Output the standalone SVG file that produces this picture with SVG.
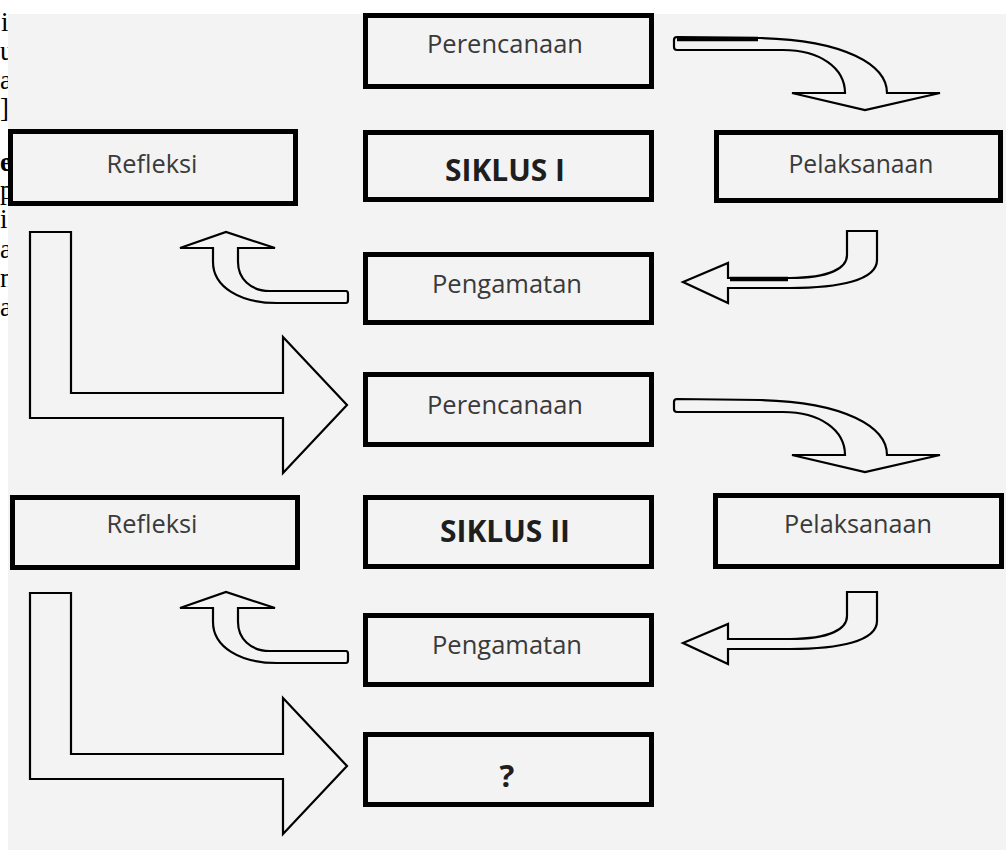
<svg xmlns="http://www.w3.org/2000/svg" width="1006" height="850" viewBox="0 0 1006 850">
<style>
.box{fill:none;stroke:#000;stroke-width:5}
.lbl{font-family:"Open Sans","Noto Sans",sans-serif;font-size:25px;fill:#3a3a3a;text-anchor:middle}
.bold{font-family:"Open Sans","Noto Sans",sans-serif;font-size:31px;font-weight:bold;fill:#1e1e1e;text-anchor:middle}
.arr{fill:#f3f3f3;stroke:#000;stroke-width:2.2;stroke-linejoin:miter}
.heavy{stroke:#000;stroke-width:4.5;fill:none}
.bg{font-family:"Liberation Serif",serif;font-size:27px;fill:#000}
</style>
<defs>
<path id="arrA" d="M677,37 L760,38 C845,40 887,65 887,93 L940,93 L865,110 L792,93 L845,93 C845,68 820,50 783,50 L677,50 Q674,50 674,47 L674,40 Q674,37 677,37 Z"/>
<path id="arrB" d="M847,231 L877,231 L877,260 C877,280 840,288 790,288 L728,288 L728,303 L683,282 L728,263 L728,278 L790,278 C830,278 847,268 847,255 Z"/>
<path id="arrC" d="M346,291 L270,291 C250,291 238,278 238,262 L238,248 L275,248 L226,232 L180,248 L213,248 L213,262 C213,287 240,303 277,303 L346,303 Q348,303 348,300 L348,294 Q348,291 346,291 Z"/>
<path id="arrD" d="M30,232 L71,232 L71,393 L283,393 L283,337 L347,405 L283,473 L283,418 L30,418 Z"/>
</defs>
<rect x="0" y="0" width="1006" height="850" fill="#ffffff"/>
<g id="page-fragments">
<text class="bg" x="1" y="31">i</text>
<text class="bg" x="0" y="60">u</text>
<text class="bg" x="0" y="89">al</text>
<text class="bg" x="0" y="117">]</text>
<text class="bg" x="0" y="171" font-weight="bold">e</text>
<text class="bg" x="0" y="199">p</text>
<text class="bg" x="0" y="228">is</text>
<text class="bg" x="0" y="258">a</text>
<text class="bg" x="0" y="287">n</text>
<text class="bg" x="0" y="316">a</text>
</g>
<rect x="8" y="14" width="998" height="836" fill="#f3f3f3"/>
<g id="connectors">
<use href="#arrA" class="arr"/>
<line class="heavy" x1="677" y1="39" x2="758" y2="39"/>
<use href="#arrB" class="arr"/>
<line class="heavy" x1="730" y1="279" x2="788" y2="279"/>
<use href="#arrC" class="arr"/>
<use href="#arrD" class="arr"/>
<use href="#arrA" class="arr" transform="translate(0,362)"/>
<use href="#arrB" class="arr" transform="translate(0,361)"/>
<use href="#arrC" class="arr" transform="translate(0,360)"/>
<use href="#arrD" class="arr" transform="translate(0,361)"/>
</g>
<g id="perencanaan-1"><rect class="box" x="365.5" y="15.5" width="286" height="71"/><text class="lbl" x="505" y="53" textLength="156" lengthAdjust="spacingAndGlyphs">Perencanaan</text></g>
<g id="siklus-1"><rect class="box" x="365.5" y="132.5" width="286" height="67"/><text class="bold" x="505" y="181" textLength="120" lengthAdjust="spacingAndGlyphs">SIKLUS I</text></g>
<g id="pengamatan-1"><rect class="box" x="365.5" y="254.5" width="286" height="68"/><text class="lbl" x="507" y="293" textLength="150" lengthAdjust="spacingAndGlyphs">Pengamatan</text></g>
<g id="refleksi-1"><rect class="box" x="10.5" y="131.5" width="285" height="72"/><text class="lbl" x="152" y="173" textLength="91" lengthAdjust="spacingAndGlyphs">Refleksi</text></g>
<g id="pelaksanaan-1"><rect class="box" x="716.5" y="132.5" width="284" height="68"/><text class="lbl" x="861" y="173" textLength="145" lengthAdjust="spacingAndGlyphs">Pelaksanaan</text></g>
<g id="perencanaan-2"><rect class="box" x="365.5" y="374.5" width="286" height="70"/><text class="lbl" x="505" y="414" textLength="156" lengthAdjust="spacingAndGlyphs">Perencanaan</text></g>
<g id="siklus-2"><rect class="box" x="365.5" y="497.5" width="286" height="69"/><text class="bold" x="505" y="542" textLength="130" lengthAdjust="spacingAndGlyphs">SIKLUS II</text></g>
<g id="pengamatan-2"><rect class="box" x="365.5" y="615.5" width="286" height="69"/><text class="lbl" x="507" y="654" textLength="150" lengthAdjust="spacingAndGlyphs">Pengamatan</text></g>
<g id="refleksi-2"><rect class="box" x="12.5" y="497.5" width="285" height="70"/><text class="lbl" x="152" y="533" textLength="91" lengthAdjust="spacingAndGlyphs">Refleksi</text></g>
<g id="pelaksanaan-2"><rect class="box" x="715.5" y="495.5" width="286" height="71"/><text class="lbl" x="858" y="533" textLength="148" lengthAdjust="spacingAndGlyphs">Pelaksanaan</text></g>
<g id="next"><rect class="box" x="365.5" y="734.5" width="286" height="70"/><text class="bold" x="507" y="787" font-size="33">?</text></g>
</svg>
